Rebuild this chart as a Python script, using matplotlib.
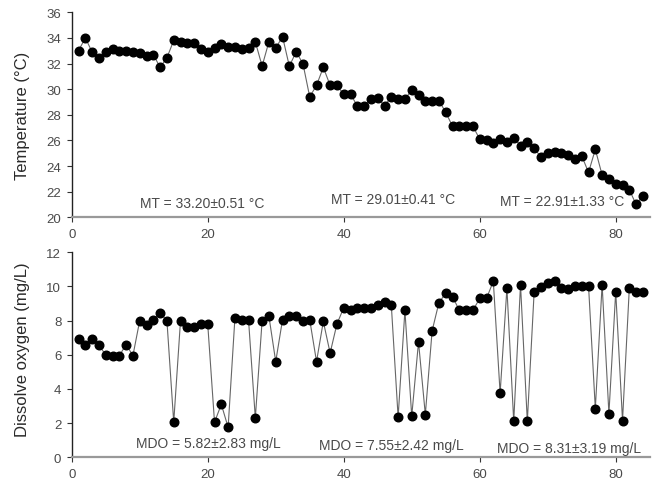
import matplotlib
matplotlib.use("Agg")
import matplotlib.pyplot as plt
from matplotlib.axes import Axes

# 気温と溶存酸素の時系列 (1..84)
days = list(range(1, 85))
temperature = [
    33.0, 34.0, 32.9, 32.4, 32.9, 33.15, 33.0, 33.0, 32.9, 32.85,
    32.6, 32.7, 31.7, 32.45, 33.8, 33.7, 33.6, 33.6, 33.1, 32.9,
    33.2, 33.5, 33.3, 33.3, 33.15, 33.2, 33.7, 31.8, 33.7, 33.2,
    34.1, 31.8, 32.9, 32.0, 29.4, 30.3, 31.7, 30.3, 30.3, 29.6,
    29.6, 28.7, 28.7, 29.2, 29.3, 28.7, 29.4, 29.25, 29.25, 29.9,
    29.55, 29.1, 29.1, 29.1, 28.2, 27.1, 27.1, 27.1, 27.1, 26.1,
    26.0, 25.8, 26.1, 25.9, 26.2, 25.6, 25.9, 25.4, 24.7, 25.0,
    25.1, 25.0, 24.9, 24.55, 24.8, 23.5, 25.3, 23.3, 23.0, 22.6,
    22.5, 22.15, 21.0, 21.7,
]
dissolved_oxygen = [
    6.9, 6.6, 6.9, 6.55, 6.0, 5.95, 5.95, 6.6, 5.95, 8.0,
    7.75, 8.05, 8.45, 8.0, 2.05, 8.0, 7.6, 7.6, 7.8, 7.8,
    2.05, 3.1, 1.75, 8.15, 8.05, 8.05, 2.3, 8.0, 8.25, 5.6,
    8.05, 8.25, 8.25, 8.0, 8.05, 5.6, 7.95, 6.1, 7.8, 8.75,
    8.6, 8.75, 8.75, 8.75, 8.9, 9.1, 8.9, 2.35, 8.6, 2.4,
    6.75, 2.5, 7.4, 9.05, 9.6, 9.4, 8.6, 8.6, 8.6, 9.3,
    9.3, 10.3, 3.75, 9.9, 2.1, 10.1, 2.1, 9.65, 9.95, 10.2,
    10.3, 9.9, 9.85, 10.05, 10.05, 10.05, 2.85, 10.1, 2.55, 9.7,
    2.15, 9.9, 9.65, 9.7,
]
# 期間ごとの平均値ラベル (x, y, text)
mt_labels = ["MT = 33.20±0.51 °C", "MT = 29.01±0.41 °C", "MT = 22.91±1.33 °C"]
mt_x = [10.0, 38.1, 63.0]
mt_y = [21.1, 21.4, 21.3]
mdo_labels = ["MDO = 5.82±2.83 mg/L", "MDO = 7.55±2.42 mg/L", "MDO = 8.31±3.19 mg/L"]
mdo_x = [9.5, 36.4, 62.6]
mdo_y = [0.84, 0.74, 0.53]

plt.rcParams['font.family'] = ["Liberation Sans", "DejaVu Sans"]

TEXT_COLOR = "#4a4a4a"


def style_axes(ax: Axes, ylim, yticks, ylabel: str, label_y: float):
    ax.set_xlim(0, 85)
    ax.set_ylim(*ylim)
    ax.set_xticks([0, 20, 40, 60, 80])
    ax.set_yticks(yticks)
    ax.spines["top"].set_visible(False)
    ax.spines["right"].set_visible(False)
    ax.spines["left"].set_color("#222222")
    ax.spines["left"].set_linewidth(1.0)
    ax.spines["bottom"].set_color("#999999")
    ax.spines["bottom"].set_linewidth(1.6)
    ax.tick_params(axis="both", direction="out", length=3.5, width=0.8,
                   color="#333333", labelsize=9.5, labelcolor=TEXT_COLOR, pad=4)
    ax.set_ylabel(ylabel, fontsize=12, color="#2a2a2a")
    ax.yaxis.set_label_coords(-0.072, label_y)


fig = plt.figure(figsize=(6.52, 4.85), dpi=100)
ax_t = fig.add_axes([0.110, 0.5499, 0.8865, 0.4227])
ax_d = fig.add_axes([0.110, 0.0551, 0.8865, 0.4227])

line_style = dict(color="#666666", linewidth=0.8, marker="o", markersize=6.2,
                  markerfacecolor="black", markeredgecolor="black")

ax_t.plot(days, temperature, **line_style)
style_axes(ax_t, (20, 36), range(20, 37, 2), "Temperature (°C)", 0.5)
for x, y, s in zip(mt_x, mt_y, mt_labels):
    ax_t.text(x, y, s, fontsize=10, color=TEXT_COLOR, va="center", ha="left")

ax_d.plot(days, dissolved_oxygen, **line_style)
style_axes(ax_d, (0, 12), range(0, 13, 2), "Dissolve oxygen (mg/L)", 0.53)
for x, y, s in zip(mdo_x, mdo_y, mdo_labels):
    ax_d.text(x, y, s, fontsize=10, color=TEXT_COLOR, va="center", ha="left")

fig.savefig("out.png", dpi=100)
